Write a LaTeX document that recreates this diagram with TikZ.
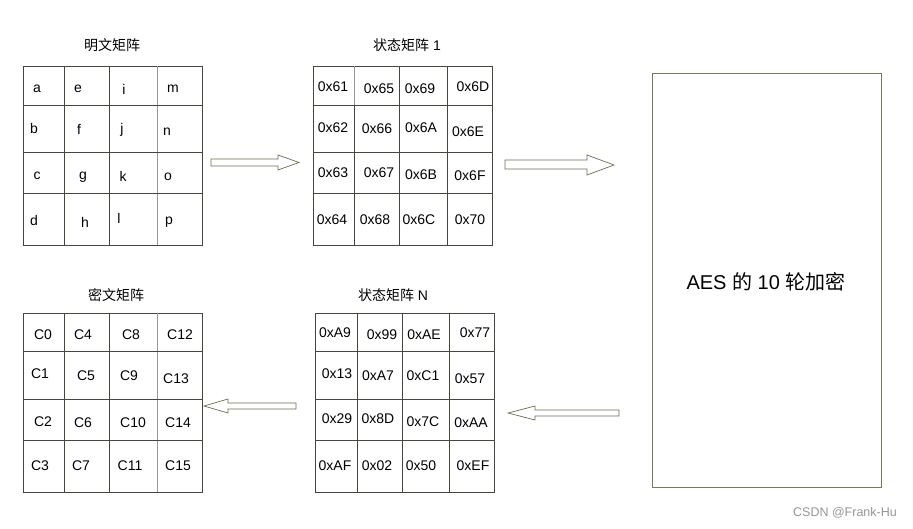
\documentclass[tikz,border=0pt]{standalone}
\usepackage{fontspec}
\setmainfont{Liberation Sans}
\newfontfamily\cjk{Noto Sans CJK SC}
\definecolor{gridc}{RGB}{70,70,60}
\definecolor{lightc}{RGB}{150,150,150}
\definecolor{boxc}{RGB}{120,120,95}
\definecolor{arrc}{RGB}{110,110,80}
\definecolor{wmc}{RGB}{150,150,150}
\begin{document}
\begin{tikzpicture}[x=1pt,y=-1pt,
  gridline/.style={draw=gridc,line width=0.8pt},
  faintline/.style={draw=lightc,line width=0.8pt},
  celltxt/.style={font=\fontsize{14}{16}\selectfont,inner sep=0pt},
  titletxt/.style={font=\fontsize{14}{16}\selectfont,inner sep=0pt},
  blockarrow/.style={draw=arrc,line width=0.7pt,fill=white,line join=miter}]
\useasboundingbox (0,0) rectangle (913,529);
\fill[white] (0,0) rectangle (913,529);

% ---------- grid frames ----------
\node[gridline,minimum width=179pt,minimum height=179pt,inner sep=0pt,anchor=north west] (G1) at (23,66) {};
\node[gridline,minimum width=179pt,minimum height=179pt,inner sep=0pt,anchor=north west] (G2) at (313,66) {};
\node[gridline,minimum width=179pt,minimum height=179pt,inner sep=0pt,anchor=north west] (G3) at (23,313) {};
\node[gridline,minimum width=179pt,minimum height=179pt,inner sep=0pt,anchor=north west] (G4) at (315,313) {};

% inner lines grid 1
\draw[gridline] (64,66) -- (64,245) (109,66) -- (109,245);
\draw[faintline] (157,66) -- (157,245);
\draw[gridline] (23,105) -- (202,105) (23,152) -- (202,152) (23,193) -- (202,193);
% inner lines grid 2
\draw[faintline] (354,66) -- (354,105);
\draw[gridline] (354,105) -- (354,245) (399,66) -- (399,245) (447,66) -- (447,245);
\draw[gridline] (313,105) -- (492,105) (313,152) -- (492,152) (313,193) -- (492,193);
% inner lines grid 3
\draw[gridline] (64,313) -- (64,492) (109,313) -- (109,492);
\draw[faintline] (157,313) -- (157,492);
\draw[gridline] (23,351) -- (202,351) (23,399) -- (202,399) (23,440) -- (202,440);
% inner lines grid 4
\draw[gridline] (357,313) -- (357,492) (402,313) -- (402,492) (449,313) -- (449,492);
\draw[gridline] (315,351) -- (494,351) (315,399) -- (494,399) (315,440) -- (494,440);

% ---------- titles ----------
\node[titletxt] (T1) at (112,45) {\cjk 明文矩阵};
\node[titletxt] (T2) at (407,45) {{\cjk 状态矩阵} 1};
\node[titletxt] (T3) at (116,295) {\cjk 密文矩阵};
\node[titletxt] (T4) at (393,295) {{\cjk 状态矩阵} N};

% ---------- cell texts ----------
\foreach \t/\x/\y [count=\i] in {
  a/37/89, e/78/89, i/124/89, m/173/89,
  b/34/128, f/79/129, j/122/130, n/167/132,
  c/37/176, g/83/177, k/123/176, o/168/177,
  d/34/220, h/85/222, l/119/218, p/169/222}
  \node[celltxt] (p\i) at (\x,\y) {\t};

\foreach \t/\x/\y [count=\i] in {
  0x61/333/87, 0x65/379/89, 0x69/420/89, 0x6D/473/87,
  0x62/333/128, 0x66/377/129, 0x6A/421/128, 0x6E/468/132,
  0x63/333/173, 0x67/379/173, 0x6B/421/175, 0x6F/470/176,
  0x64/332/220, 0x68/375/220, 0x6C/419/220, 0x70/470/220}
  \node[celltxt] (s\i) at (\x,\y) {\t};

\foreach \t/\x/\y [count=\i] in {
  C0/43/335, C4/83/335, C8/131/335, C12/180/335,
  C1/40/374, C5/86/376, C9/129/376, C13/176/379,
  C2/43/422, C6/83/423, C10/133/423, C14/178/423,
  C3/40/466, C7/81/466, C11/130/466, C15/178/466}
  \node[celltxt] (c\i) at (\x,\y) {\t};

\foreach \t/\x/\y [count=\i] in {
  0xA9/335/333, 0x99/382/335, 0xAE/424/335, 0x77/475/333,
  0x13/337/374, 0xA7/378/376, 0xC1/423/376, 0x57/470/379,
  0x29/337/419, 0x8D/378/419, 0x7C/423/422, 0xAA/471/423,
  0xAF/335/466, 0x02/377/466, 0x50/421/466, 0xEF/473/466}
  \node[celltxt] (n\i) at (\x,\y) {\t};

% ---------- AES box ----------
\node[draw=boxc,line width=0.8pt,minimum width=229pt,minimum height=414pt,inner sep=0pt,anchor=north west] (AES) at (652,73) {};
\node[font=\fontsize{20}{24}\selectfont,inner sep=0pt] (AEStxt) at (766,282) {AES {\cjk 的} 10 {\cjk 轮加密}};

% ---------- block arrows ----------
\draw[blockarrow] (211,159) -- (278,159) -- (278,155) -- (299,162.5) -- (278,170) -- (278,166) -- (211,166) -- cycle;
\draw[blockarrow] (505,160) -- (587,160) -- (587,155) -- (614,165) -- (587,175) -- (587,169) -- (505,169) -- cycle;
\draw[blockarrow] (296,403) -- (228,403) -- (228,399) -- (204,406) -- (228,413) -- (228,409) -- (296,409) -- cycle;
\draw[blockarrow] (619,410) -- (535,410) -- (535,406) -- (508,413) -- (535,420) -- (535,416) -- (619,416) -- cycle;

% ---------- watermark ----------
\node[font=\fontsize{12.5}{14}\selectfont,text=wmc,inner sep=0pt] (wm) at (845,513) {CSDN @Frank-Hu};
\end{tikzpicture}
\end{document}
